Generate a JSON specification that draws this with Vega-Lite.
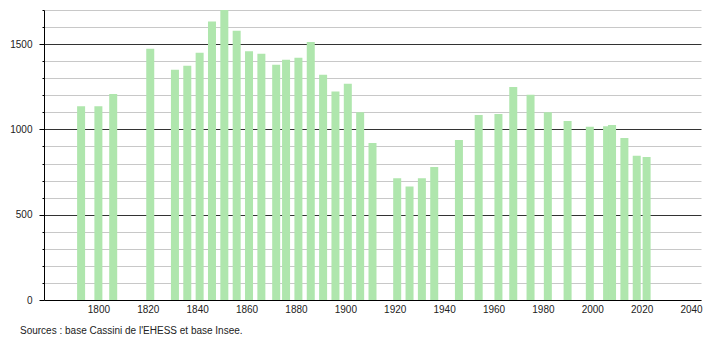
{
  "$schema": "https://vega.github.io/schema/vega-lite/v6.json",
  "width": 657,
  "height": 290,
  "autosize": "none",
  "padding": {"left": 44, "top": 10, "right": 9, "bottom": 40},
  "background": "white",
  "config": {
    "view": {"stroke": null},
    "font": "Liberation Sans",
    "axis": {"labelFont": "Liberation Sans", "labelFontSize": 10, "labelColor": "#222", "domainColor": "#000", "title": null}
  },
  "title": {
    "text": "Sources : base Cassini de l'EHESS et base Insee.",
    "orient": "bottom",
    "anchor": "start",
    "frame": "group",
    "font": "Liberation Sans",
    "fontSize": 10,
    "fontWeight": "normal",
    "color": "#222",
    "offset": 12,
    "dx": -24
  },
  "data": {
    "values": [
      {"year": 1793, "pop": 1136},
      {"year": 1800, "pop": 1136},
      {"year": 1806, "pop": 1207},
      {"year": 1821, "pop": 1473},
      {"year": 1831, "pop": 1350},
      {"year": 1836, "pop": 1373},
      {"year": 1841, "pop": 1450},
      {"year": 1846, "pop": 1632},
      {"year": 1851, "pop": 1700},
      {"year": 1856, "pop": 1579},
      {"year": 1861, "pop": 1458},
      {"year": 1866, "pop": 1444},
      {"year": 1872, "pop": 1379},
      {"year": 1876, "pop": 1409},
      {"year": 1881, "pop": 1420},
      {"year": 1886, "pop": 1513},
      {"year": 1891, "pop": 1320},
      {"year": 1896, "pop": 1222},
      {"year": 1901, "pop": 1268},
      {"year": 1906, "pop": 1101},
      {"year": 1911, "pop": 921},
      {"year": 1921, "pop": 713},
      {"year": 1926, "pop": 666},
      {"year": 1931, "pop": 713},
      {"year": 1936, "pop": 779},
      {"year": 1946, "pop": 938},
      {"year": 1954, "pop": 1085},
      {"year": 1962, "pop": 1091},
      {"year": 1968, "pop": 1248},
      {"year": 1975, "pop": 1203},
      {"year": 1982, "pop": 1101},
      {"year": 1990, "pop": 1050},
      {"year": 1999, "pop": 1016},
      {"year": 2006, "pop": 1019},
      {"year": 2008, "pop": 1026},
      {"year": 2013, "pop": 949},
      {"year": 2018, "pop": 845},
      {"year": 2022, "pop": 838}
    ]
  },
  "mark": {"type": "bar", "width": 8, "color": "#afe6ad"},
  "encoding": {
    "x": {
      "field": "year",
      "type": "quantitative",
      "scale": {"domain": [1780, 2042], "nice": false, "zero": false},
      "axis": {
        "values": [1800, 1820, 1840, 1860, 1880, 1900, 1920, 1940, 1960, 1980, 2000, 2020, 2040],
        "format": "d",
        "ticks": false,
        "labelPadding": 4,
        "grid": false,
        "domainColor": "#000",
        "labelFlush": false
      }
    },
    "y": {
      "field": "pop",
      "type": "quantitative",
      "scale": {"domain": [0, 1700], "nice": false},
      "axis": {
        "values": [0, 100, 200, 300, 400, 500, 600, 700, 800, 900, 1000, 1100, 1200, 1300, 1400, 1500, 1600, 1700],
        "labelExpr": "datum.value % 500 === 0 ? datum.label : ''",
        "format": "d",
        "grid": true,
        "gridColor": {"condition": {"test": "datum.value % 500 === 0 && datum.value > 0", "value": "#333333"}, "value": "#c8c8c8"},
        "gridOpacity": 1,
        "gridWidth": 1,
        "tickColor": "#000",
        "tickSize": {"condition": {"test": "datum.value % 500 === 0", "value": 5}, "value": 2},
        "labelPadding": 7,
        "domainColor": "#000",
        "labelFlush": false
      }
    }
  }
}
